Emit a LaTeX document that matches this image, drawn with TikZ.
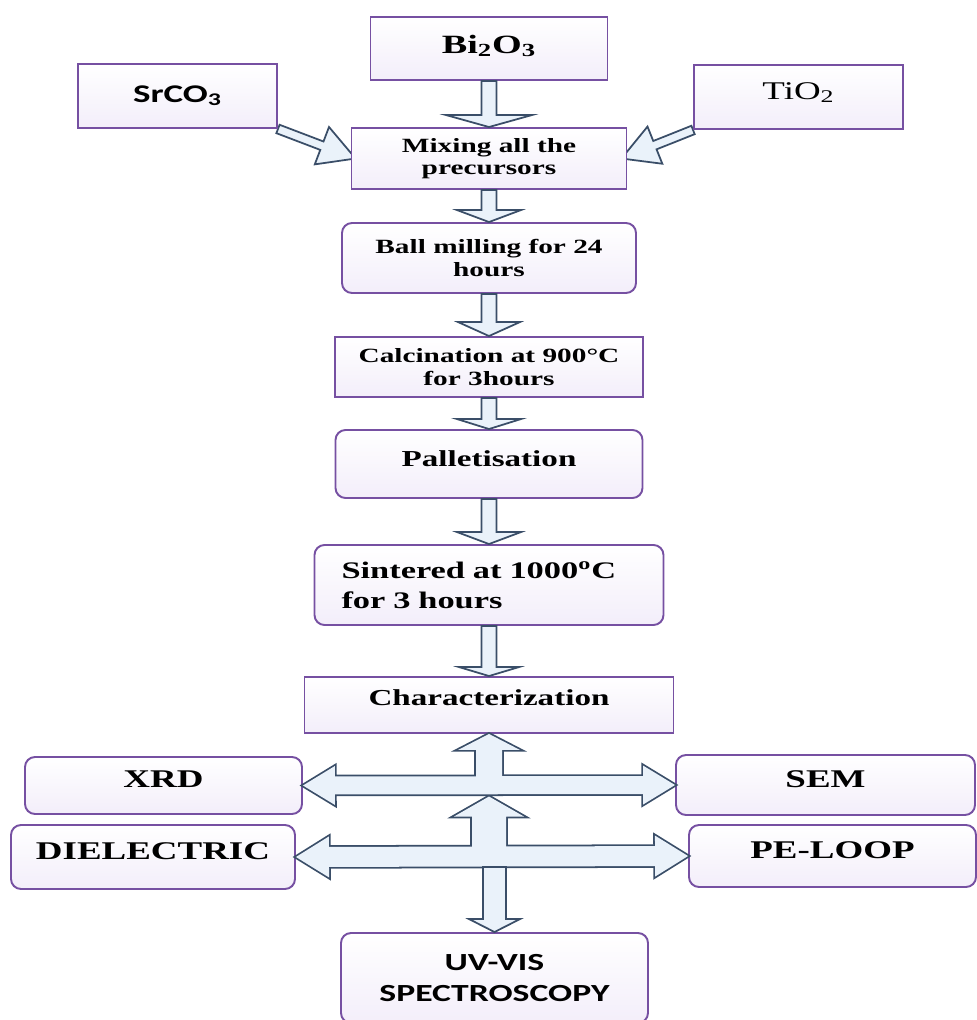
\documentclass[tikz,border=0pt]{standalone}
\usepackage{fontspec}
\setmainfont{Liberation Serif}[FakeStretch=1.45]
\newfontfamily\calfont{Carlito}[FakeStretch=1.45]
\usetikzlibrary{calc,backgrounds}
\definecolor{boxedge}{RGB}{118,80,162}
\definecolor{boxlav}{RGB}{243,238,250}
\definecolor{arrowedge}{RGB}{58,78,104}
\definecolor{arrowfill}{RGB}{234,242,250}
\newcommand{\flowfont}{\bfseries\fontsize{11.5}{12.8}\selectfont}
\newcommand{\testfont}{\bfseries\fontsize{14.5}{16}\selectfont}
\tikzset{
  arr shaft/.store in=\arrshaft,
  arr head/.store in=\arrhead,
  arr len/.store in=\arrlen,
  arr shaft=1.5mm, arr head=6.4mm, arr len=2.4mm,
  blk/.style={to path={
      ($(\tikztotarget)!\arrlen!(\tikztostart)$) coordinate (nk)
      ($(\tikztostart)!\arrshaft!90:(\tikztotarget)$)
      -- ($(nk)!\arrshaft!-90:(\tikztostart)$)
      -- ($(nk)!\arrhead!-90:(\tikztostart)$)
      -- (\tikztotarget)
      -- ($(nk)!\arrhead!90:(\tikztostart)$)
      -- ($(nk)!\arrshaft!90:(\tikztostart)$)
      -- ($(\tikztostart)!\arrshaft!-90:(\tikztotarget)$) -- cycle}},
  dblk/.style={to path={
      ($(\tikztostart)!\arrlen!(\tikztotarget)$) coordinate (nka)
      ($(\tikztotarget)!\arrlen!(\tikztostart)$) coordinate (nkb)
      (\tikztostart)
      -- ($(nka)!\arrhead!90:(\tikztotarget)$)
      -- ($(nka)!\arrshaft!90:(\tikztotarget)$)
      -- ($(nkb)!\arrshaft!-90:(\tikztostart)$)
      -- ($(nkb)!\arrhead!-90:(\tikztostart)$)
      -- (\tikztotarget)
      -- ($(nkb)!\arrhead!90:(\tikztostart)$)
      -- ($(nkb)!\arrshaft!90:(\tikztostart)$)
      -- ($(nka)!\arrshaft!-90:(\tikztotarget)$)
      -- ($(nka)!\arrhead!-90:(\tikztotarget)$)
      -- cycle}}
}
\begin{document}
\begin{tikzpicture}[x=0.2mm, y=-0.2mm,
        sqbox/.style={draw=boxedge, line width=1.1pt, top color=white, bottom color=boxlav, inner sep=0pt},
        rndbox/.style={sqbox, rounded corners=2mm},
        sidebox/.style={rndbox, font=\testfont, text height=3.4mm, text depth=2.6mm},
        flowarr/.style={draw=arrowedge, fill=arrowfill, line width=1pt, line join=miter},
        arrline/.style={draw=arrowedge, line width=2pt, line join=miter},
        arrfill/.style={fill=arrowfill}]
        \useasboundingbox (0,0) rectangle (977,1020);
        \clip (0,0) rectangle (977,1020);

        \node[sqbox, minimum width=47.4mm, minimum height=12.6mm, font=\bfseries\fontsize{15}{17}\selectfont, text height=3.5mm, text depth=1.7mm] (bi) at (489,48.5) {Bi\textsubscript{2}O\textsubscript{3}};
        \node[sqbox, minimum width=39.8mm, minimum height=12.8mm, font=\calfont\bfseries\fontsize{14.5}{16}\selectfont, text height=3.3mm, text depth=0.9mm] (sr) at (177.5,96) {SrCO\textsubscript{3}};
        \node[sqbox, minimum width=41.8mm, minimum height=12.8mm, font=\fontsize{14.5}{16}\selectfont, text height=3.3mm, text depth=2.5mm] (ti) at (798.5,97) {TiO\textsubscript{2}};
        \node[sqbox, minimum width=55mm, minimum height=12.2mm, align=center, font=\flowfont] (mix) at (489,158.5) {Mixing all the\\precursors};
        \node[rndbox, minimum width=58.8mm, minimum height=14mm, align=center, font=\flowfont] (ball) at (489,258) {Ball milling for 24\\hours};
        \node[sqbox, minimum width=61.6mm, minimum height=12mm, align=center, font=\flowfont] (calc) at (489,367) {Calcination at 900°C\\for 3hours};
        \node[rndbox, minimum width=61.4mm, minimum height=13.6mm, font=\bfseries\fontsize{13}{15}\selectfont, text height=3.2mm, text depth=2.4mm] (pall) at (489,464) {Palletisation};
        \node[rndbox, minimum width=69.8mm, minimum height=16mm, text width=59mm, inner xsep=5.4mm, align=left, font=\bfseries\fontsize{13.5}{17}\selectfont] (sint) at (489,585) {Sintered at 1000\textsuperscript{o}C\\for 3 hours};
        \node[sqbox, minimum width=73.8mm, minimum height=11.2mm, font=\bfseries\fontsize{13}{15}\selectfont, text height=3.2mm, text depth=3.2mm] (char) at (489,705) {Characterization};
        \node[sidebox, minimum width=55.4mm, minimum height=11.4mm] (xrd) at (163.5,785.5) {XRD};
        \node[sidebox, minimum width=59.8mm, minimum height=12mm] (sem) at (825.5,785) {SEM};
        \node[sidebox, minimum width=56.8mm, minimum height=12.8mm] (diel) at (153,857) {DIELECTRIC};
        \node[sidebox, minimum width=57.4mm, minimum height=12.4mm] (pe) at (832.5,856) {PE-LOOP};
        \node[rndbox, minimum width=61.4mm, minimum height=18mm, align=center, font=\calfont\bfseries\fontsize{14}{18}\selectfont] (uv) at (494.5,978) {UV-VIS\\SPECTROSCOPY};

        \draw[flowarr] (bi.south) to[blk, arr head=8.6mm] (mix.north);
        \draw[flowarr] (mix.south) to[blk] (ball.north);
        \draw[flowarr] (ball.south) to[blk, arr len=2.8mm, arr head=6.2mm] (calc.north);
        \draw[flowarr] (calc.south) to[blk, arr len=2mm] (pall.north);
        \draw[flowarr] (pall.south) to[blk] (sint.north);
        \draw[flowarr] (sint.south) to[blk, arr len=1.8mm, arr head=6mm] (char.north);

        % Side inputs, behind the boxes
        \coordinate (srtip) at ($(mix.west)+(5,0)$);
        \coordinate (titip) at ($(mix.east)+(-6,0)$);
        \begin{scope}[on background layer]
          \draw[flowarr] (sr.south east) to[blk, arr shaft=0.9mm, arr head=4mm, arr len=7.2mm] (srtip);
          \draw[flowarr] (ti.south west) to[blk, arr shaft=0.9mm, arr head=4mm, arr len=7.2mm] (titip);
        \end{scope}

        % Characterization arrows
        \coordinate (hub1) at (char.south |- xrd.east);
        \coordinate (hub2) at (char.south |- diel.east);
        \coordinate (top2) at ($(hub1)+(0,11)$);
        \coordinate (hub3) at ($(uv.north |- diel.east)+(0,10)$);
        \foreach \pass in {arrline,arrfill} {
          \path[\pass] (xrd.east) to[dblk, arr shaft=1.8mm, arr head=3.9mm, arr len=6.4mm] (sem.west);
          \path[\pass] (hub1) to[blk, arr shaft=2.6mm, arr head=6.2mm, arr len=3.2mm] (char.south);
          \path[\pass] (diel.east) to[dblk, arr shaft=2mm, arr head=4.1mm, arr len=6.6mm] (pe.west);
          \path[\pass] (hub2) to[blk, arr shaft=3.4mm, arr head=7mm, arr len=4mm] (top2);
        }
        \draw[flowarr] (hub3) to[blk, arr shaft=2.3mm, arr head=5.1mm, arr len=2.6mm] (uv.north);
      \end{tikzpicture}
\end{document}
